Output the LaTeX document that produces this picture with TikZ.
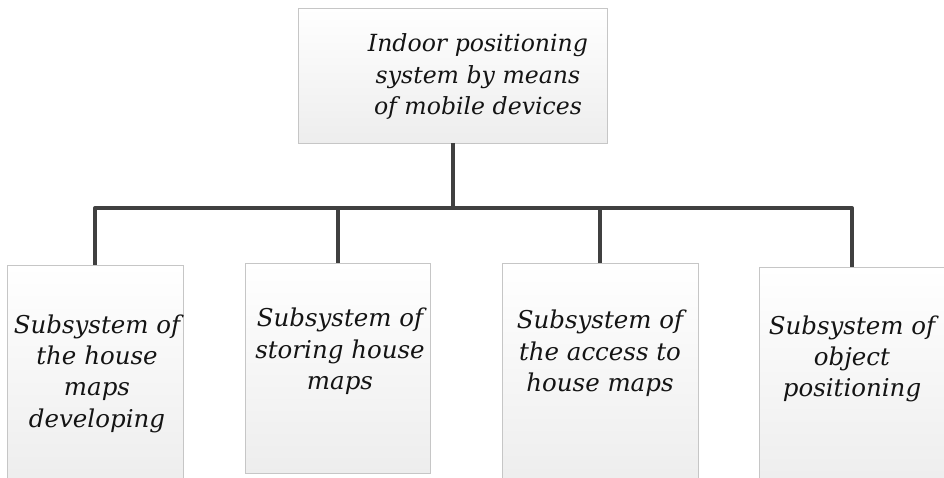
\documentclass[tikz,border=0pt]{standalone}
\usepackage{fontspec}
\setmainfont{DejaVu Serif}
\usetikzlibrary{shadows}
\begin{document}
\begin{tikzpicture}[x=1pt,y=1pt,
  box/.style={draw=gray!45, line width=0.8pt, top color=white, bottom color=gray!14, inner sep=0pt,
    drop shadow={shadow xshift=1pt, shadow yshift=-1pt, opacity=0.25}},
  lbl/.style={align=center, font=\fontsize{24.5}{31.3}\selectfont\itshape, text=black!92, inner sep=0pt},
  toplbl/.style={lbl, font=\fontsize{23.6}{31.3}\selectfont\itshape},
  wire/.style={draw=black!75, line width=4pt, line join=round, line cap=butt}]
\clip (0,0) rectangle (944,478);
\fill[white] (0,0) rectangle (944,478);
% boxes
\node[box, minimum width=309pt, minimum height=135pt] (top) at (452.5,402.5) {};
\node[box, minimum width=176pt, minimum height=220pt] (b1) at (95,103) {};
\node[box, minimum width=185pt, minimum height=210pt] (b2) at (337.5,110) {};
\node[box, minimum width=196pt, minimum height=222pt] (b3) at (600,104) {};
\node[box, minimum width=186pt, minimum height=220pt] (b4) at (852,101) {};
% connectors
\coordinate (bus) at (452.5,270);
\draw[wire] (top.south) -- (bus);
\draw[wire] (b1.north) |- (bus);
\draw[wire] (b4.north) |- (bus);
\draw[wire] (b2.north) -- (b2.north |- bus);
\draw[wire] (b3.north) -- (b3.north |- bus);
% labels
\node[toplbl] (t0) at (478,401.5) {Indoor positioning\\system by means\\of mobile devices};
\node[lbl] (t1) at (97,104.5) {Subsystem of\\the house\\maps\\developing};
\node[lbl] (t2) at (340,126.5) {Subsystem of\\storing house\\maps};
\node[lbl] (t3) at (600,124.5) {Subsystem of\\the access to\\house maps};
\node[lbl] (t4) at (852,119) {Subsystem of\\object\\positioning};
\end{tikzpicture}
\end{document}
